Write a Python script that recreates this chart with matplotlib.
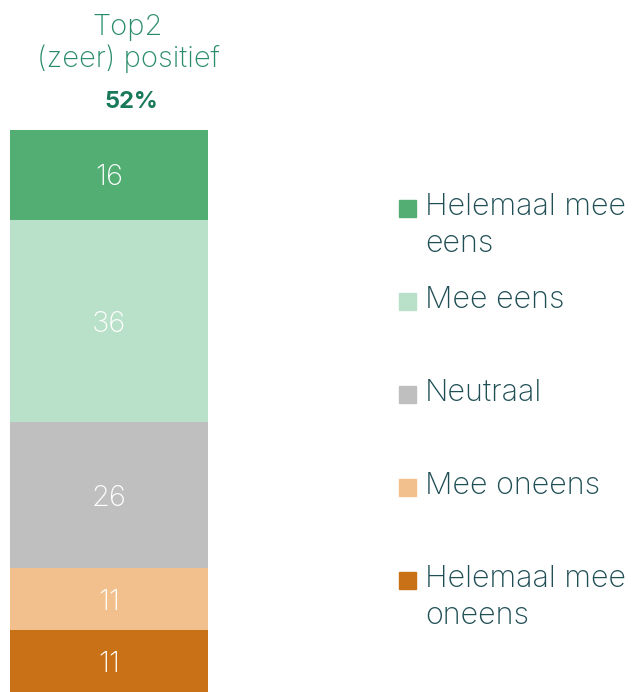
import matplotlib.pyplot as plt
from matplotlib.patches import Rectangle

# Antwoordcategorieën (van boven naar beneden)
categories = ["Helemaal mee\neens", "Mee eens", "Neutraal", "Mee oneens", "Helemaal mee\noneens"]
values = [16, 36, 26, 11, 11]
colors = ["#52ae73", "#b9e0c8", "#bfbfbf", "#f2c08c", "#c87117"]
top2_label = ["Top2", "(zeer) positief"]
top2_value = "52%"

plt.rcParams['font.family'] = ['Inter', 'DejaVu Sans']

fig = plt.figure(figsize=(6.36, 6.92), dpi=100)
ax = fig.add_axes([10 / 636, 0, 198 / 636, 562 / 692])

# gestapelde balk, van onder naar boven
bottom = 0
for val, col in zip(values[::-1], colors[::-1]):
    ax.bar(0, val, bottom=bottom, width=1, color=col)
    ax.annotate(str(val), (0, bottom + val / 2), xytext=(0, -3), textcoords='offset pixels',
                ha='center', va='center', color='white', fontsize=21, fontweight='light')
    bottom += val

ax.set_xlim(-0.5, 0.5)
ax.set_ylim(0, sum(values))
ax.axis('off')

# titel boven de balk
for line, y in zip(top2_label, [35, 67]):
    fig.text(128 / 636, 1 - y / 692, line, ha='center', va='baseline',
             color='#2a8c6e', fontsize=21, fontweight='light')
fig.text(131 / 636, 1 - 108 / 692, top2_value, ha='center', va='baseline',
         color='#17785a', fontsize=17, fontweight='bold')

# legenda
legend_y = [215, 308, 401, 494, 587]
for lab, col, y in zip(categories, colors, legend_y):
    fig.patches.append(Rectangle((399 / 636, 1 - (y + 2) / 692), 17 / 636, 17 / 692,
                                 transform=fig.transFigure, color=col))
    for i, line in enumerate(lab.split("\n")):
        fig.text(425 / 636, 1 - (y + 37 * i) / 692, line, ha='left', va='baseline',
                 color='#1f4e55', fontsize=22, fontweight='light')

fig.savefig("out.png", dpi=100)
